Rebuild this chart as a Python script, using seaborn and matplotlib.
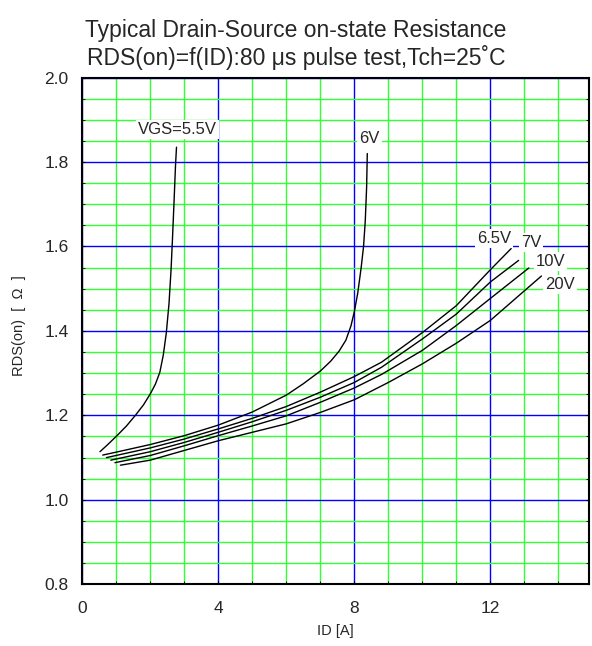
import matplotlib
matplotlib.use("Agg")
import matplotlib.pyplot as plt
import numpy as np
import pandas as pd
import seaborn as sns

# curve data (ID [A], RDS(on) [ohm])
x_55 = [0.52, 0.75, 1.02, 1.3, 1.56, 1.8, 2.0, 2.15, 2.28, 2.38, 2.47, 2.55, 2.61, 2.65, 2.70, 2.74, 2.77]
y_55 = [1.114, 1.131, 1.152, 1.175, 1.200, 1.225, 1.251, 1.274, 1.302, 1.342, 1.395, 1.465, 1.545, 1.615, 1.710, 1.790, 1.835]

x_6 = [0.6, 1, 2, 3, 4, 5, 6, 6.5, 7, 7.3, 7.55, 7.75, 7.9, 8.0, 8.1, 8.2, 8.27, 8.32, 8.36, 8.38]
y_6 = [1.106, 1.113, 1.131, 1.152, 1.177, 1.208, 1.248, 1.275, 1.305, 1.328, 1.352, 1.378, 1.412, 1.446, 1.490, 1.550, 1.600, 1.660, 1.740, 1.820]

x_65 = [0.71, 2, 3, 4, 5, 6, 7, 8, 8.8, 10, 11, 12, 12.61]
y_65 = [1.100, 1.123, 1.144, 1.168, 1.193, 1.221, 1.255, 1.292, 1.326, 1.396, 1.460, 1.545, 1.595]

x_7 = [0.84, 2, 3, 4, 5, 6, 7, 8, 8.8, 10, 11, 12, 12.83]
y_7 = [1.094, 1.114, 1.136, 1.160, 1.185, 1.212, 1.243, 1.278, 1.314, 1.381, 1.440, 1.516, 1.567]

x_10 = [0.96, 2, 3, 4, 5, 6, 7, 8, 8.8, 10, 11, 12, 13.13]
y_10 = [1.088, 1.105, 1.128, 1.152, 1.175, 1.199, 1.231, 1.265, 1.297, 1.354, 1.413, 1.477, 1.549]

x_20 = [1.12, 2, 3, 4, 5, 6, 7, 8, 9, 10, 11, 12, 13.5]
y_20 = [1.082, 1.094, 1.117, 1.140, 1.160, 1.180, 1.207, 1.237, 1.278, 1.322, 1.371, 1.425, 1.530]

curve_names = ["VGS=5.5V", "6V", "6.5V", "7V", "10V", "20V"]
curve_x = [x_55, x_6, x_65, x_7, x_10, x_20]
curve_y = [y_55, y_6, y_65, y_7, y_10, y_20]

# where the curve labels sit
label_x = [2.80, 8.45, 12.11, 13.20, 13.77, 14.05]
label_y = [1.876, 1.855, 1.620, 1.610, 1.564, 1.511]

x_ticks = [0, 4, 8, 12]
y_ticks = [0.8, 1.0, 1.2, 1.4, 1.6, 1.8, 2.0]

sns.set_style("white")
plt.rcParams['font.family'] = ['Liberation Sans', 'DejaVu Sans']

fig = plt.figure(figsize=(5.92, 6.46), dpi=100)
ax = fig.add_axes([0.139, 0.0955, 0.856, 0.7845])

rows = []
for name, xs, ys in zip(curve_names, curve_x, curve_y):
    for i, (a, b) in enumerate(zip(xs, ys)):
        rows.append({"curve": name, "i": i, "ID": a, "RDS": b})
df = pd.DataFrame(rows)

for name in curve_names:
    d = df[df["curve"] == name]
    sns.lineplot(data=d, x="ID", y="RDS", sort=False, estimator=None,
                 color="black", linewidth=1.0, ax=ax, zorder=3)

for name, lx, ly in zip(curve_names, label_x, label_y):
    ax.text(lx, ly, name, ha="center", va="center", fontsize=12, zorder=4,
            bbox=dict(facecolor="white", edgecolor="none", pad=1.5))

ax.set_xlim(0, 14.9)
ax.set_ylim(0.8, 2.0)
ax.set_xticks(x_ticks)
ax.set_yticks(y_ticks)
ax.set_yticklabels([f"{v:.1f}" for v in y_ticks])
ax.set_xticks(np.arange(0, 15, 1), minor=True)
ax.set_yticks(np.arange(0.8, 2.001, 0.05), minor=True)

ax.grid(which="minor", color="#33ff33", linewidth=1.0, zorder=0)
ax.grid(which="major", color="#0000ff", linewidth=1.0, zorder=1)
ax.set_axisbelow(True)

ax.tick_params(which="both", direction="in", length=2, color="black",
               right=True, top=False, left=True, bottom=True)
ax.tick_params(axis="both", which="major", labelsize=12.5)
ax.tick_params(axis="y", which="major", pad=10)
ax.tick_params(axis="x", which="major", pad=12)

for s in ax.spines.values():
    s.set_visible(True)
    s.set_color("black")
    s.set_linewidth(1.5)

ax.set_xlabel("ID [A]", fontsize=10.5, labelpad=6)
ax.set_ylabel("RDS(on)  [  \u03a9  ]", fontsize=10.5)
ax.yaxis.set_label_coords(-0.112, 0.51)

fig.text(0.5, 0.971, "Typical Drain-Source on-state Resistance\n"
         "RDS(on)=f(ID):80 \u03bcs pulse test,Tch=25\u02daC",
         ha="center", va="top", fontsize=16.5, linespacing=1.15)

fig.savefig("out.png", dpi=100)
